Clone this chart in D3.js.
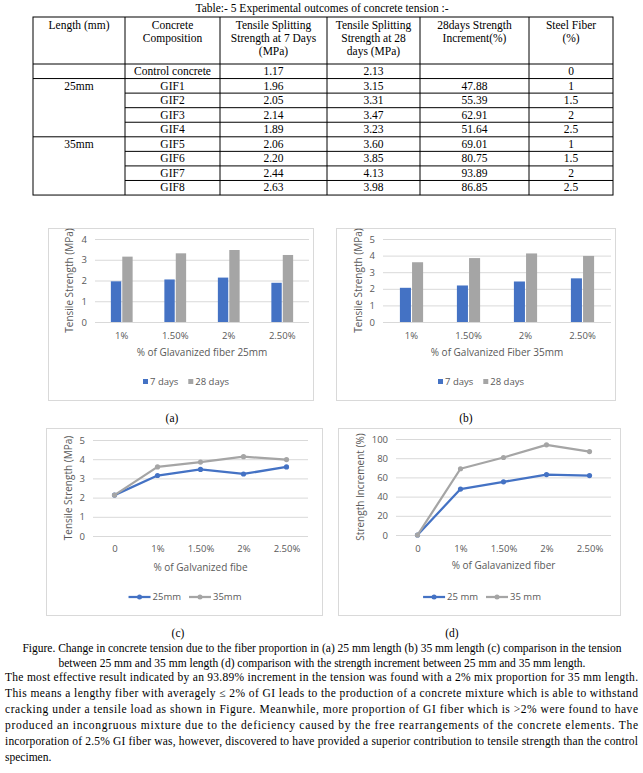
<!DOCTYPE html>
<html><head><meta charset="utf-8">
<script src="https://cdn.jsdelivr.net/npm/d3@7"></script>
<style>body{margin:0;background:#fff}svg{display:block}</style>
</head><body><div id="c"></div>
<script>
// ---------- DATA ----------
const tableTitle = "Table:- 5 Experimental outcomes of concrete tension :-";
const headers = [
  ["Length (mm)"],
  ["Concrete", "Composition"],
  ["Tensile Splitting", "Strength at 7 Days", "(MPa)"],
  ["Tensile Splitting", "Strength at 28", "days (MPa)"],
  ["28days Strength", "Increment(%)"],
  ["Steel Fiber", "(%)"]
];
const lengthLabels = ["", "25mm", "", "", "", "35mm", "", "", ""];
const compositions = ["Control concrete", "GIF1", "GIF2", "GIF3", "GIF4", "GIF5", "GIF6", "GIF7", "GIF8"];
const strength7 = ["1.17", "1.96", "2.05", "2.14", "1.89", "2.06", "2.20", "2.44", "2.63"];
const strength28 = ["2.13", "3.15", "3.31", "3.47", "3.23", "3.60", "3.85", "4.13", "3.98"];
const increment = ["", "47.88", "55.39", "62.91", "51.64", "69.01", "80.75", "93.89", "86.85"];
const steelFiber = ["0", "1", "1.5", "2", "2.5", "1", "1.5", "2", "2.5"];

const barCategories = ["1%", "1.50%", "2%", "2.50%"];
const a7days = [1.96, 2.05, 2.14, 1.89];
const a28days = [3.15, 3.31, 3.47, 3.23];
const b7days = [2.06, 2.20, 2.44, 2.63];
const b28days = [3.60, 3.85, 4.13, 3.98];
const barSeries = ["7 days", "28 days"];

const lineCategories = ["0", "1%", "1.50%", "2%", "2.50%"];
const c25 = [2.13, 3.15, 3.47, 3.23, 3.60];
const c35 = [2.13, 3.60, 3.85, 4.13, 3.98];
const d25 = [0, 47.88, 55.39, 62.91, 61.9];
const d35 = [0, 69.01, 80.75, 93.89, 86.85];

const ticksA = [0, 1, 2, 3, 4];
const ticksB = [0, 1, 2, 3, 4, 5];
const ticksC = [0, 1, 2, 3, 4, 5];
const ticksD = [0, 20, 40, 60, 80, 100];

const panelLabels = ["(a)", "(b)", "(c)", "(d)"];
const captionLines = [
  "Figure. Change in concrete tension due to the fiber proportion in (a) 25 mm length (b) 35 mm length (c) comparison in the tension",
  "between 25 mm and 35 mm length (d) comparison with the strength increment between 25 mm and 35 mm length."
];
const paragraphLines = [
  "The most effective result indicated by an 93.89% increment in the tension was found with a 2% mix proportion for 35 mm length.",
  "This means a lengthy fiber with averagely \u2264 2% of GI leads to the production of a concrete mixture which is able to withstand",
  "cracking under a tensile load as shown in Figure. Meanwhile, more proportion of GI fiber which is >2% were found to have",
  "produced an incongruous mixture due to the deficiency caused by the free rearrangements of the concrete elements. The",
  "incorporation of 2.5% GI fiber was, however, discovered to have provided a superior contribution to tensile strength than the control",
  "specimen."
];

// ---------- STYLE ----------
const BLUE = "#4472C4", GRAY = "#A5A5A5", GRID = "#D9D9D9", TXT = "#595959";
const SERIF = "'Liberation Serif','Times New Roman',serif";
const SANS = "'Open Sans','Noto Sans',sans-serif";

const svg = d3.select("#c").append("svg").attr("width", 643).attr("height", 773)
  .style("background", "#fff");

// ---------- TABLE ----------
const colX = [33, 125, 220, 327, 420, 529, 613];
const tTop = 17, hBottom = 64, rowH = 14.56, nRows = compositions.length;
const tBottom = hBottom + rowH * nRows;
const tg = svg.append("g").attr("font-family", SERIF).attr("font-size", 11.5).attr("fill", "#000");

svg.append("text").attr("x", 322).attr("y", 12).attr("text-anchor", "middle")
  .attr("font-family", SERIF).attr("font-size", 11.5).text(tableTitle);

tg.append("rect").attr("x", colX[0]).attr("y", tTop).attr("width", colX[6] - colX[0])
  .attr("height", tBottom - tTop).attr("fill", "none").attr("stroke", "#000").attr("stroke-width", 1);
colX.slice(1, 6).forEach(x => tg.append("line").attr("x1", x).attr("x2", x)
  .attr("y1", tTop).attr("y2", tBottom).attr("stroke", "#000"));
tg.append("line").attr("x1", colX[0]).attr("x2", colX[6]).attr("y1", hBottom).attr("y2", hBottom).attr("stroke", "#000");
for (let i = 0; i < nRows - 1; i++) {
  const y = hBottom + rowH * (i + 1);
  const full = (i === 0 || i === 4);
  tg.append("line").attr("x1", full ? colX[0] : colX[1]).attr("x2", colX[6])
    .attr("y1", y).attr("y2", y).attr("stroke", "#000");
}
headers.forEach((lines, c) => {
  const cx = (colX[c] + colX[c + 1]) / 2;
  lines.forEach((t, k) => tg.append("text").attr("x", cx).attr("y", tTop + 12 + k * 13)
    .attr("text-anchor", "middle").text(t));
});
const cols = [lengthLabels, compositions, strength7, strength28, increment, steelFiber];
cols.forEach((arr, c) => {
  const cx = (colX[c] + colX[c + 1]) / 2;
  arr.forEach((t, r) => {
    if (t === "") return;
    tg.append("text").attr("x", cx).attr("y", hBottom + rowH * r + 11)
      .attr("text-anchor", "middle").text(t);
  });
});

// ---------- CHART HELPERS ----------
function frame(box) {
  svg.append("rect").attr("x", box.x + 0.5).attr("y", box.y + 0.5).attr("width", box.w).attr("height", box.h)
    .attr("fill", "#fff").attr("stroke", GRID).attr("stroke-width", 1);
}
function yAxis(g, y, ticks, x0, x1) {
  const ax = g.append("g").attr("transform", `translate(${x0},0)`)
    .call(d3.axisLeft(y).tickValues(ticks).tickSize(-(x1 - x0)).tickPadding(8).tickFormat(d3.format("d")));
  ax.select(".domain").remove();
  ax.selectAll("line").attr("stroke", GRID).attr("stroke-width", 1);
  ax.selectAll("text").attr("fill", TXT).attr("font-family", SANS).attr("font-size", 9.5);
}
function xLabels(g, x, y0, labY, band) {
  const ax = g.append("g").attr("transform", `translate(0,${labY})`)
    .call(d3.axisBottom(x).tickSize(0).tickPadding(0));
  ax.select(".domain").remove();
  ax.selectAll("text").attr("fill", TXT).attr("font-family", SANS).attr("font-size", 9.5).attr("dy", "0.35em");
  if (band) ax.attr("transform", `translate(0,${labY})`);
}
function titles(g, xt, xtX, xtY, yt, ytX, ytY) {
  g.append("text").attr("x", xtX).attr("y", xtY).attr("text-anchor", "middle").attr("dy", "0.35em")
    .attr("fill", TXT).attr("font-family", SANS).attr("font-size", 10).text(xt);
  g.append("text").attr("transform", `translate(${ytX},${ytY}) rotate(-90)`).attr("text-anchor", "middle")
    .attr("dy", "0.35em").attr("fill", TXT).attr("font-family", SANS).attr("font-size", 10).text(yt);
}
function barLegend(g, cx, cy) {
  const lg = g.append("g");
  let x = 0;
  [BLUE, GRAY].forEach((col, i) => {
    lg.append("rect").attr("x", x).attr("y", cy - 3).attr("width", 5).attr("height", 5).attr("fill", col);
    const t = lg.append("text").attr("x", x + 7).attr("y", cy).attr("dy", "0.35em").attr("fill", TXT)
      .attr("font-family", SANS).attr("font-size", 9.5).text(barSeries[i]);
    x += 7 + t.node().getComputedTextLength() + 10;
  });
  const w = x - 10;
  lg.attr("transform", `translate(${cx - w / 2},0)`);
}
function lineLegend(g, cx, cy, names) {
  const lg = g.append("g");
  let x = 0;
  [BLUE, GRAY].forEach((col, i) => {
    lg.append("line").attr("x1", x).attr("x2", x + 22).attr("y1", cy).attr("y2", cy)
      .attr("stroke", col).attr("stroke-width", 2.25);
    lg.append("circle").attr("cx", x + 11).attr("cy", cy).attr("r", 2.5).attr("fill", col);
    const t = lg.append("text").attr("x", x + 24).attr("y", cy).attr("dy", "0.35em").attr("fill", TXT)
      .attr("font-family", SANS).attr("font-size", 9.5).text(names[i]);
    x += 24 + t.node().getComputedTextLength() + 8;
  });
  const w = x - 8;
  lg.attr("transform", `translate(${cx - w / 2},0)`);
}

function barChart(cfg) {
  frame(cfg.box);
  const g = svg.append("g");
  const y = d3.scaleLinear().domain([0, cfg.ticks[cfg.ticks.length - 1]]).range([cfg.y0, cfg.yTop]);
  const x = d3.scaleBand().domain(barCategories).range([cfg.x0, cfg.x1]);
  yAxis(g, y, cfg.ticks, cfg.x0, cfg.x1);
  const bw = x.bandwidth() * 0.185, gap = bw * 0.2;
  const inner = d3.scaleBand().domain([0, 1]).range([x.bandwidth() / 2 - bw - gap / 2, x.bandwidth() / 2 + bw + gap / 2]).paddingInner(gap / (2 * bw + gap));
  [cfg.s1, cfg.s2].forEach((s, k) => {
    g.selectAll(null).data(s).enter().append("rect")
      .attr("x", (d, i) => x(barCategories[i]) + inner(k))
      .attr("width", inner.bandwidth())
      .attr("y", d => y(d)).attr("height", d => y(0) - y(d))
      .attr("fill", k === 0 ? BLUE : GRAY);
  });
  xLabels(g, x, cfg.y0, cfg.labY);
  titles(g, cfg.xTitle, (cfg.x0 + cfg.x1) / 2, cfg.xtY, "Tensile Strength (MPa)", cfg.ytX, (cfg.y0 + cfg.yTop) / 2);
  barLegend(g, cfg.legX, cfg.legY);
}

function lineChart(cfg) {
  frame(cfg.box);
  const g = svg.append("g");
  const y = d3.scaleLinear().domain([0, cfg.ticks[cfg.ticks.length - 1]]).range([cfg.y0, cfg.yTop]);
  const x = d3.scalePoint().domain(lineCategories).range([cfg.x0, cfg.x1]).padding(0.5);
  yAxis(g, y, cfg.ticks, cfg.x0, cfg.x1);
  const line = d3.line().x((d, i) => x(lineCategories[i])).y(d => y(d));
  [[cfg.s1, BLUE], [cfg.s2, GRAY]].forEach(([s, col]) => {
    g.append("path").datum(s).attr("d", line).attr("fill", "none").attr("stroke", col)
      .attr("stroke-width", 2.25).attr("stroke-linejoin", "round").attr("stroke-linecap", "round");
    g.selectAll(null).data(s).enter().append("circle")
      .attr("cx", (d, i) => x(lineCategories[i])).attr("cy", d => y(d)).attr("r", 2.6).attr("fill", col);
  });
  xLabels(g, x, cfg.y0, cfg.labY);
  titles(g, cfg.xTitle, (cfg.x0 + cfg.x1) / 2, cfg.xtY, cfg.yTitle, cfg.ytX, (cfg.y0 + cfg.yTop) / 2);
  lineLegend(g, cfg.legX, cfg.legY, cfg.names);
}

// ---------- CHARTS ----------
barChart({ box: { x: 48, y: 228, w: 265, h: 172 }, x0: 95, x1: 309, y0: 322, yTop: 239, ticks: ticksA,
  s1: a7days, s2: a28days, labY: 336, xTitle: "% of Glavanized fiber 25mm", xtY: 352, ytX: 69, legX: 186, legY: 382 });
barChart({ box: { x: 336, y: 228, w: 279, h: 172 }, x0: 383, x1: 611, y0: 322, yTop: 239, ticks: ticksB,
  s1: b7days, s2: b28days, labY: 336, xTitle: "% of Galvanized Fiber 35mm", xtY: 352, ytX: 358, legX: 481, legY: 382 });
lineChart({ box: { x: 46, y: 428, w: 276, h: 187 }, x0: 93, x1: 308, y0: 536, yTop: 440, ticks: ticksC,
  s1: c25, s2: c35, labY: 549, xTitle: "% of Galvanized fibe", xtY: 567, yTitle: "Tensile Strength (MPa)", ytX: 68,
  legX: 185, legY: 597, names: ["25mm", "35mm"] });
lineChart({ box: { x: 338, y: 428, w: 282, h: 187 }, x0: 396, x1: 611, y0: 535, yTop: 439, ticks: ticksD,
  s1: d25, s2: d35, labY: 549, xTitle: "% of Galavanized fiber", xtY: 565, yTitle: "Strength Increment (%)", ytX: 360,
  legX: 482, legY: 597, names: ["25 mm", "35 mm"] });

// ---------- LABELS & TEXT ----------
const lab = [[172, 418], [466, 418], [178, 633], [452, 633]];
panelLabels.forEach((t, i) => svg.append("text").attr("x", lab[i][0]).attr("y", lab[i][1]).attr("dy", "0.35em")
  .attr("text-anchor", "middle").attr("font-family", SERIF).attr("font-size", 11.5).text(t));

captionLines.forEach((t, i) => svg.append("text").attr("x", 322).attr("y", 652 + i * 15)
  .attr("text-anchor", "middle").attr("font-family", SERIF).attr("font-size", 11.5).text(t));

paragraphLines.forEach((t, i) => {
  const tx = svg.append("text").attr("x", 5).attr("y", 681 + i * 15.9)
    .attr("font-family", SERIF).attr("font-size", 11.5).text(t);
  if (i < paragraphLines.length - 1) tx.attr("textLength", 633).attr("lengthAdjust", "spacing");
});
</script>
</body></html>
